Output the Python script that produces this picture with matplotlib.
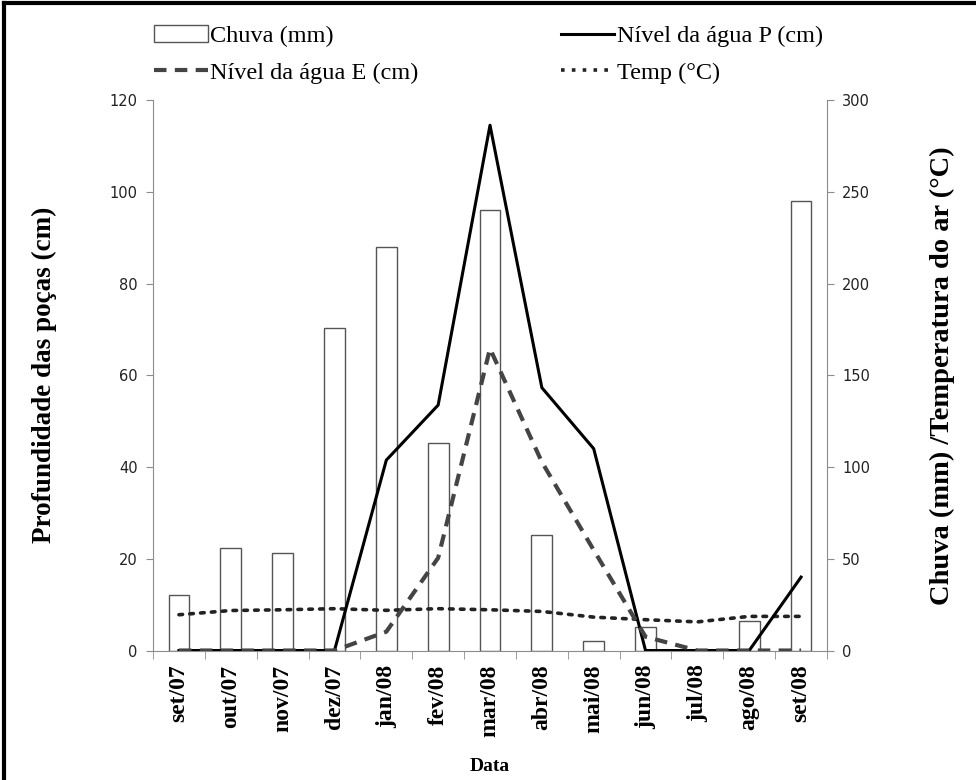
import matplotlib.pyplot as plt
from matplotlib.lines import Line2D
from matplotlib.patches import Patch

# Monthly data
months = ["set/07", "out/07", "nov/07", "dez/07", "jan/08", "fev/08", "mar/08",
          "abr/08", "mai/08", "jun/08", "jul/08", "ago/08", "set/08"]
chuva = [30, 56, 53, 176, 220, 113, 240, 63, 5, 13, 0, 16, 245]
nivel_p = [0, 0, 0, 0, 41.5, 53.5, 114.5, 57.3, 44, 0, 0, 0, 16]
nivel_e = [0, 0, 0, 0, 4.1, 20.2, 65.8, 41.1, 21.9, 3.0, 0, 0, 0]
temp = [19.5, 21.8, 22.2, 22.8, 21.9, 22.8, 22.2, 21.3, 18.2, 16.8, 15.6, 18.6, 18.6]

serif = "Liberation Serif"
grey = "#8c8c8c"

fig = plt.figure(figsize=(9.76, 7.8), dpi=100)
ax = fig.add_axes([0.1568, 0.166, 0.6905, 0.7058])
ax2 = ax.twinx()

x = list(range(len(months)))

# Rain bars and temperature on the right axis
ax2.bar(x, chuva, width=0.4, facecolor="white", edgecolor="#555555", linewidth=1.0, zorder=2)
ax2.plot(x, temp, color="#222222", linestyle=(0, (1, 2)), linewidth=2.6,
         dash_capstyle="round", zorder=3)
ax2.set_ylim(0, 300)
ax2.set_yticks(range(0, 301, 50))

# Water level lines on the left axis (drawn on top)
ax.set_zorder(ax2.get_zorder() + 1)
ax.patch.set_visible(False)
ax.plot(x, nivel_p, color="black", linewidth=2.2, zorder=4)
ax.plot(x, nivel_e, color="#444444", linestyle=(0, (3, 2)), linewidth=3.0, zorder=4)
ax.set_ylim(0, 120)
ax.set_yticks(range(0, 121, 20))
ax.set_xlim(-0.5, len(months) - 0.5)

# Category ticks: marks at boundaries, labels at centres
ax.set_xticks(x)
ax.set_xticklabels(months, rotation=90, fontfamily=serif, fontweight="bold", fontsize=17)
ax.set_xticks([i - 0.5 for i in range(len(months) + 1)], minor=True)
ax.tick_params(axis="x", which="major", length=0, pad=10)
ax.tick_params(axis="x", which="minor", length=6, color=grey, direction="out")

for a in (ax, ax2):
    for s in a.spines.values():
        s.set_color(grey)
    a.spines["top"].set_visible(False)
    a.tick_params(axis="y", length=5, color=grey, labelsize=10.5, labelcolor="#222222", pad=6)
ax.spines["right"].set_visible(False)
ax2.spines["left"].set_visible(False)
ax2.spines["bottom"].set_visible(False)

ax.set_ylabel("Profundidade das poças (cm)", fontfamily=serif, fontweight="bold", fontsize=19.5, labelpad=38)
ax2.set_ylabel("Chuva (mm) /Temperatura do ar (°C)", fontfamily=serif, fontweight="bold",
               fontsize=20.5, rotation=90, labelpad=43)
fig.text(0.502, 0.012, "Data", fontfamily=serif, fontweight="bold", fontsize=14, ha="center")

# Legend above the plot, two columns
handles = [
    Patch(facecolor="white", edgecolor="#555555", linewidth=1.0, label="Chuva (mm)"),
    Line2D([], [], color="#444444", linestyle=(0, (3, 2)), linewidth=3.0, label="Nível da água E (cm)"),
    Line2D([], [], color="black", linewidth=2.2, label="Nível da água P (cm)"),
    Line2D([], [], color="#222222", linestyle=(0, (1, 2)), linewidth=2.6, label="Temp (°C)"),
]
fig.legend(handles=handles, ncol=2, loc="upper left", bbox_to_anchor=(0.148, 0.98),
           frameon=False, prop={"family": serif, "size": 17.5}, handlelength=2.2,
           handletextpad=0.1, columnspacing=5.85, labelspacing=0.6, borderaxespad=0)

# Partial chart border (top and left)
fig.add_artist(Line2D([0.004, 0.004], [0, 0.996], transform=fig.transFigure, color="black", linewidth=3))
fig.add_artist(Line2D([0.004, 1.0], [0.996, 0.996], transform=fig.transFigure, color="black", linewidth=3))

fig.savefig("out.png", dpi=100)
